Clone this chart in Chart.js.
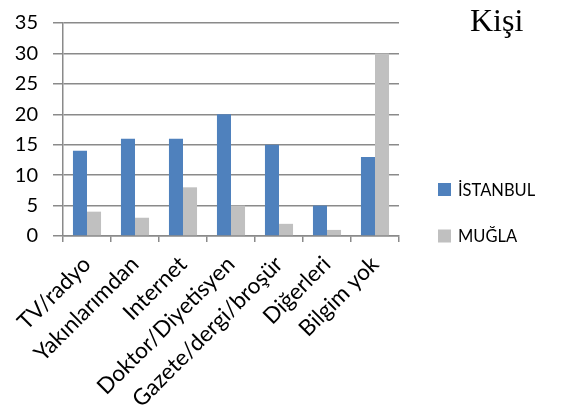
<!DOCTYPE html>
<html>
<head>
<meta charset="utf-8">
<script src="https://cdn.jsdelivr.net/npm/chart.js@4/dist/chart.umd.min.js"></script>
<style>
  html, body { margin: 0; padding: 0; background: #fff; }
  #wrap { width: 570px; height: 409px; }
</style>
</head>
<body>
<div id="wrap"><canvas id="c" width="570" height="409"></canvas></div>
<script>
// Information sources, counted per city
const categories = ['TV/radyo', 'Yakınlarımdan', 'Internet', 'Doktor/Diyetisyen', 'Gazete/dergi/broşür', 'Diğerleri', 'Bilgim yok'];
const istanbul = [14, 16, 16, 20, 15, 5, 13];
const mugla = [4, 3, 8, 5, 2, 1, 30];
const seriesNames = ['İSTANBUL', 'MUĞLA'];
const unitLabel = 'Kişi';

const FONT = 'Lato, "Open Sans", sans-serif';
const GRID = '#8a8a8a';

// Corner title and a right-hand legend drawn next to the plot
const sidePanel = {
  id: 'sidePanel',
  afterDraw(chart) {
    const ctx = chart.ctx;
    ctx.save();
    ctx.fillStyle = '#000';
    ctx.font = '32px "Liberation Serif", "Times New Roman", serif';
    ctx.textAlign = 'left';
    ctx.textBaseline = 'alphabetic';
    ctx.fillText(unitLabel, 470, 31);

    ctx.font = '16.5px ' + FONT;
    ctx.textBaseline = 'middle';
    const rows = [189.5, 236];
    chart.data.datasets.forEach((ds, i) => {
      const y = rows[i];
      ctx.fillStyle = ds.backgroundColor;
      ctx.fillRect(438, y - 6.5, 13, 13);
      ctx.fillStyle = '#000';
      ctx.fillText(ds.label, 458, y + 1);
    });
    ctx.restore();
  }
};

new Chart(document.getElementById('c'), {
  type: 'bar',
  data: {
    labels: categories,
    datasets: [
      { label: seriesNames[0], data: istanbul, backgroundColor: '#4f81bd' },
      { label: seriesNames[1], data: mugla, backgroundColor: '#c0c0c0' }
    ]
  },
  options: {
    responsive: false,
    animation: false,
    events: [],
    layout: { padding: { left: 0, right: 171, top: 23, bottom: 0 } },
    datasets: { bar: { categoryPercentage: 0.585, barPercentage: 1.0 } },
    plugins: {
      legend: { display: false },
      title: { display: false },
      tooltip: { enabled: false }
    },
    scales: {
      x: {
        grid: {
          display: true,
          offset: true,
          drawOnChartArea: false,
          drawTicks: true,
          tickLength: 6,
          color: GRID,
          lineWidth: 1.5
        },
        border: { display: true, color: GRID, width: 1.5 },
        ticks: {
          autoSkip: false,
          minRotation: 45,
          maxRotation: 45,
          padding: 9,
          color: '#000',
          font: { family: FONT, size: 22.5 }
        },
        afterFit(scale) { scale.height = 173; }
      },
      y: {
        min: 0,
        max: 35,
        ticks: {
          stepSize: 5,
          padding: 15,
          color: '#000',
          font: { family: FONT, size: 20, lineHeight: 0.4 }
        },
        grid: {
          color: GRID,
          lineWidth: 1.5,
          tickLength: 10,
          drawTicks: true
        },
        border: { display: true, color: GRID, width: 1.5 },
        afterFit(scale) { scale.width = 63; }
      }
    }
  },
  plugins: [sidePanel]
});
</script>
</body>
</html>
